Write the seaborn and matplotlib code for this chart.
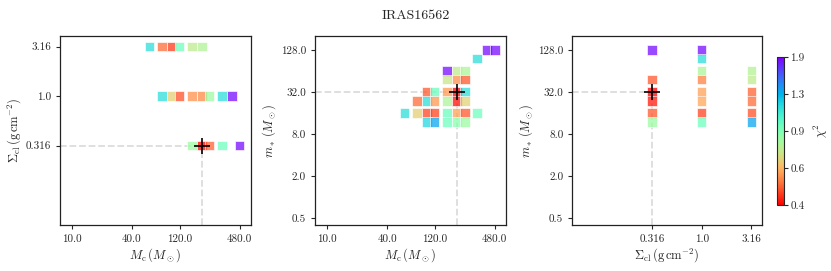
import numpy as np
import matplotlib
matplotlib.use("Agg")
import matplotlib.pyplot as plt
from matplotlib.colors import LogNorm
import matplotlib.cm as cm
import seaborn as sns
import pandas as pd

sns.set_style("ticks")
plt.rcParams["font.family"] = ["serif"]
plt.rcParams["font.serif"] = ["cmr10", "DejaVu Serif"]
plt.rcParams["mathtext.fontset"] = "cm"
plt.rcParams["axes.formatter.use_mathtext"] = True
plt.rcParams["axes.unicode_minus"] = False

title = "IRAS16562"

# Panel 1: Mc vs Sigma_cl
p1_mc = [60, 80, 100, 120, 160, 200,
         80, 100, 120, 160, 200, 240, 320, 400,
         160, 200, 240, 320, 480]
p1_sig = [3.16, 3.16, 3.16, 3.16, 3.16, 3.16,
          1.0, 1.0, 1.0, 1.0, 1.0, 1.0, 1.0, 1.0,
          0.316, 0.316, 0.316, 0.316, 0.316]
p1_chi = [1.12, 0.50, 0.45, 0.92, 0.72, 0.75,
          1.12, 0.64, 0.47, 0.54, 0.53, 0.80, 1.12, 1.85,
          0.80, 0.40, 0.49, 0.92, 1.85]

# Panel 2: Mc vs m*
p2_mc = [400, 480,
         320,
         160, 200, 240,
         160, 200, 240,
         100, 120, 160, 200, 240,
         80, 100, 120, 160, 200, 240,
         60, 80, 100, 120, 160, 200, 240, 320,
         100, 120, 160, 200, 240]
p2_ms = [128, 128,
         96,
         64, 64, 64,
         48, 48, 48,
         32, 32, 32, 32, 32,
         24, 24, 24, 24, 24, 24,
         16, 16, 16, 16, 16, 16, 16, 16,
         12, 12, 12, 12, 12]
p2_chi = [1.85, 1.85,
          1.12,
          1.85, 0.72, 0.76,
          0.70, 0.54, 0.48,
          0.48, 0.93, 0.55, 0.40, 1.12,
          0.50, 1.12, 0.55, 0.76, 0.41, 0.65,
          1.12, 0.64, 0.46, 0.46, 0.93, 0.56, 0.48, 0.92,
          1.15, 1.33, 0.92, 0.85, 0.80]

# Panel 3: Sigma_cl vs m*
p3_sig = [0.316, 0.316, 0.316, 0.316, 0.316, 0.316,
          1.0, 1.0, 1.0, 1.0, 1.0, 1.0, 1.0, 1.0,
          3.16, 3.16, 3.16, 3.16, 3.16, 3.16]
p3_ms = [128, 48, 32, 24, 16, 12,
         128, 96, 64, 48, 32, 24, 16, 12,
         64, 48, 32, 24, 16, 12]
p3_chi = [1.85, 0.48, 0.40, 0.42, 0.48, 0.80,
          1.85, 1.12, 0.76, 0.52, 0.56, 0.57, 0.46, 0.92,
          0.74, 0.72, 0.49, 0.50, 0.47, 1.33]

best_mc, best_sig, best_ms = 200, 0.316, 32

mc_ticks = [10.0, 40.0, 120.0, 480.0]
sig_ticks = [0.316, 1.0, 3.16]
ms_ticks = [0.5, 2.0, 8.0, 32.0, 128.0]

chi_min, chi_max = 0.4, 1.9
norm = LogNorm(vmin=chi_min, vmax=chi_max)
cmap = "rainbow_r"

mc_lim = (7.6, 620)
sig_lim = (0.05, 4.07)
ms_lim = (0.40, 204)

fig = plt.figure(figsize=(8.31, 2.71), dpi=100)
ax1 = fig.add_axes([0.0722, 0.1697, 0.2295, 0.6985])
ax2 = fig.add_axes([0.379, 0.1697, 0.2298, 0.6985])
ax3 = fig.add_axes([0.6887, 0.1697, 0.2286, 0.6985])
cax = fig.add_axes([0.9354, 0.2435, 0.0084, 0.545])

def panel(ax, x, y, c, xlim, ylim, bx, by, xt, yt, xlabel, ylabel):
    df = pd.DataFrame({"x": x, "y": y, "chi": c})
    ax.set_xscale("log")
    ax.set_yscale("log")
    ax.plot([xlim[0], bx], [by, by], ls="--", color="#dcdcdc", lw=1.3, zorder=1)
    ax.plot([bx, bx], [ylim[0], by], ls="--", color="#dcdcdc", lw=1.3, zorder=1)
    sns.scatterplot(data=df, x="x", y="y", hue="chi", palette=cmap, hue_norm=norm,
                    marker="s", s=48, alpha=0.75, edgecolor="white", linewidth=0.6,
                    legend=False, ax=ax, zorder=2)
    ax.plot(bx, by, "+", color="k", ms=11, mew=1.2, zorder=3)
    ax.set_xlim(*xlim)
    ax.set_ylim(*ylim)
    ax.minorticks_off()
    ax.set_xticks(xt)
    ax.set_xticklabels([f"{v}" for v in xt])
    ax.set_yticks(yt)
    ax.set_yticklabels([f"{v}" for v in yt])
    ax.minorticks_off()
    ax.tick_params(labelsize=8, length=3, width=0.8, direction="out")
    ax.set_xlabel(xlabel, fontsize=9, labelpad=2)
    ax.set_ylabel(ylabel, fontsize=9, labelpad=2)
    for s in ax.spines.values():
        s.set_linewidth(0.9)
        s.set_color("#222222")

mc_label = r"$M_{\rm c}\,(M_\odot)$"
sig_label = r"$\Sigma_{\rm cl}\,({\rm g\,cm^{-2}})$"
ms_label = r"$m_*\,(M_\odot)$"

panel(ax1, p1_mc, p1_sig, p1_chi, mc_lim, sig_lim, best_mc, best_sig,
      mc_ticks, sig_ticks, mc_label, sig_label)
panel(ax2, p2_mc, p2_ms, p2_chi, mc_lim, ms_lim, best_mc, best_ms,
      mc_ticks, ms_ticks, mc_label, ms_label)
panel(ax3, p3_sig, p3_ms, p3_chi, sig_lim, ms_lim, best_sig, best_ms,
      sig_ticks, ms_ticks, sig_label, ms_label)

sm = cm.ScalarMappable(norm=norm, cmap=cmap)
sm.set_array([])
cb = fig.colorbar(sm, cax=cax)
cticks = np.geomspace(chi_min, chi_max, 5)
cb.set_ticks(cticks)
cb.set_ticklabels([f"{v:.1f}" for v in cticks])
cb.ax.minorticks_off()
cb.ax.tick_params(labelsize=8, length=3, width=0.8, pad=1.5)
cb.outline.set_linewidth(0.8)
cb.set_label(r"$\chi^2$", fontsize=9)
cb.ax.yaxis.set_label_coords(5.0, 0.5)

fig.suptitle(title, fontsize=10, y=0.965)

fig.savefig("out.png", dpi=100)
